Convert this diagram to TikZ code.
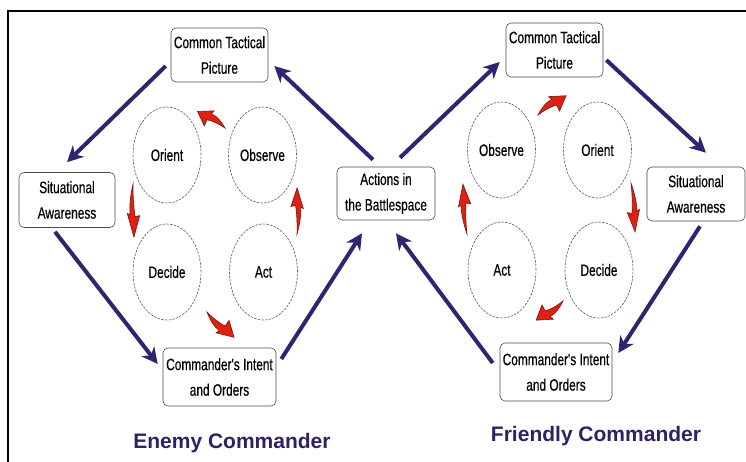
\documentclass[tikz,border=0pt]{standalone}
\usepackage{fontspec}
\setmainfont{Liberation Sans}
\newfontfamily\condfont[FakeStretch=0.72,FakeBold=0.4]{Liberation Sans}
\usetikzlibrary{arrows.meta,calc,shapes.geometric}
\definecolor{navyarr}{RGB}{46,36,112}
\definecolor{titlecol}{RGB}{48,32,104}
\definecolor{flamefill}{RGB}{226,32,18}
\definecolor{flameedge}{RGB}{120,22,12}
\tikzset{
  box/.style={draw=gray!60!black, line width=0.6pt, rounded corners=5pt, align=center,
    inner sep=0pt, font=\condfont\fontsize{16.5}{25.5}\selectfont},
  phase/.style={ellipse, draw=gray!70!black, line width=0.6pt, dash pattern=on 2.5pt off 1.2pt,
    inner sep=0pt, minimum width=68pt, minimum height=96pt, font=\condfont\fontsize{16.5}{20}\selectfont},
  flow/.style={draw=navyarr, line width=4pt, -{Stealth[length=16pt,width=16pt,inset=5pt]}},
  titletext/.style={font=\bfseries\fontsize{21}{25}\selectfont, text=titlecol},
  flame/.pic={
    \filldraw[fill=flamefill, draw=flameedge, line width=0.6pt]
      (0,0) .. controls (0.2,0.5) and (0.4,0.85) .. (0.58,0.75)
      -- (0.55,1.25) -- (1,0.2) -- (0.6,-1.0) -- (0.62,-0.15)
      .. controls (0.45,0.05) and (0.2,0.1) .. (0,0) -- cycle;
  }
}
\begin{document}
\begin{tikzpicture}[x=1pt,y=-1pt]
\useasboundingbox (0,0) rectangle (746,462);
\fill[white] (0,0) rectangle (746,462);
% frame
\draw[line width=1.8pt] (8,462) -- (8,11) -- (746,11);

% enemy side boxes
\node[box, minimum width=97pt, minimum height=54pt] (ctpE) at (219.5,55) {Common Tactical\\Picture};
\node[box, minimum width=96pt, minimum height=55pt] (saE) at (67,200) {Situational\\Awareness};
\node[box, minimum width=113pt, minimum height=58pt] (ciE) at (219.5,377) {Commander's Intent\\and Orders};
% centre
\node[box, minimum width=98pt, minimum height=53pt] (act) at (386,193.5) {Actions in\\the Battlespace};
% friendly side boxes
\node[box, minimum width=97pt, minimum height=54pt] (ctpF) at (554.5,50) {Common Tactical\\Picture};
\node[box, minimum width=98pt, minimum height=54pt] (saF) at (696,194) {Situational\\Awareness};
\node[box, minimum width=112pt, minimum height=58pt] (ciF) at (556,372) {Commander's Intent\\and Orders};

% OODA ellipses enemy
\node[phase] (orientE) at (167,155) {Orient};
\node[phase] (observeE) at (262.5,155) {Observe};
\node[phase] (decideE) at (167,272) {Decide};
\node[phase] (actE) at (263.5,272) {Act};
% OODA ellipses friendly
\node[phase] (observeF) at (501.5,150) {Observe};
\node[phase] (orientF) at (597.5,150) {Orient};
\node[phase] (actF) at (502,270) {Act};
\node[phase] (decideF) at (599,270) {Decide};

% titles
\node[titletext] (titleE) at (232,443) {Enemy Commander};
\node[titletext] (titleF) at (596,436) {Friendly Commander};

% big arrows enemy
\draw[flow] ($(ctpE.west)+(-5,11)$) -- ($(saE.north)+(0,-10)$);
\draw[flow] ($(saE.south)+(-12,4)$) -- ($(ciE.west)+(-5,-13)$);
\draw[flow] ($(ciE.east)+(5,-18)$) -- ($(act.south)+(-24,13)$);
\draw[flow] ($(act.north)+(-13,-7)$) -- ($(ctpE.east)+(6,11)$);
% big arrows friendly
\draw[flow] ($(act.north)+(14,-9)$) -- ($(ctpF.west)+(-6,12)$);
\draw[flow] ($(ctpF.east)+(3,10)$) -- ($(saF.north)+(10,-14)$);
\draw[flow] ($(saF.south)+(4,5)$) -- ($(ciF.east)+(6,-19)$);
\draw[flow] ($(ciF.west)+(-7,-9)$) -- ($(act.south)+(10,13)$);

% red cycle arrows enemy (counter-clockwise)
\pic[rotate=151.8, xscale=32, yscale=8] at (225,128) {flame};
\pic[rotate=-87.8, xscale=53, yscale=5.5] at (133,184) {flame};
\pic[rotate=-40.6, xscale=37, yscale=8] at (207,312) {flame};
\pic[rotate=91.2, xscale=46, yscale=5.5] at (297,234) {flame};
% red cycle arrows friendly (clockwise)
\pic[rotate=31.8, xscale=34, yscale=-8] at (538,115) {flame};
\pic[rotate=-86.5, xscale=49, yscale=-5.5] at (631,183) {flame};
\pic[rotate=212.7, xscale=33, yscale=-8] at (563,301) {flame};
\pic[rotate=93.4, xscale=50, yscale=-5.5] at (467,234) {flame};
\end{tikzpicture}
\end{document}
